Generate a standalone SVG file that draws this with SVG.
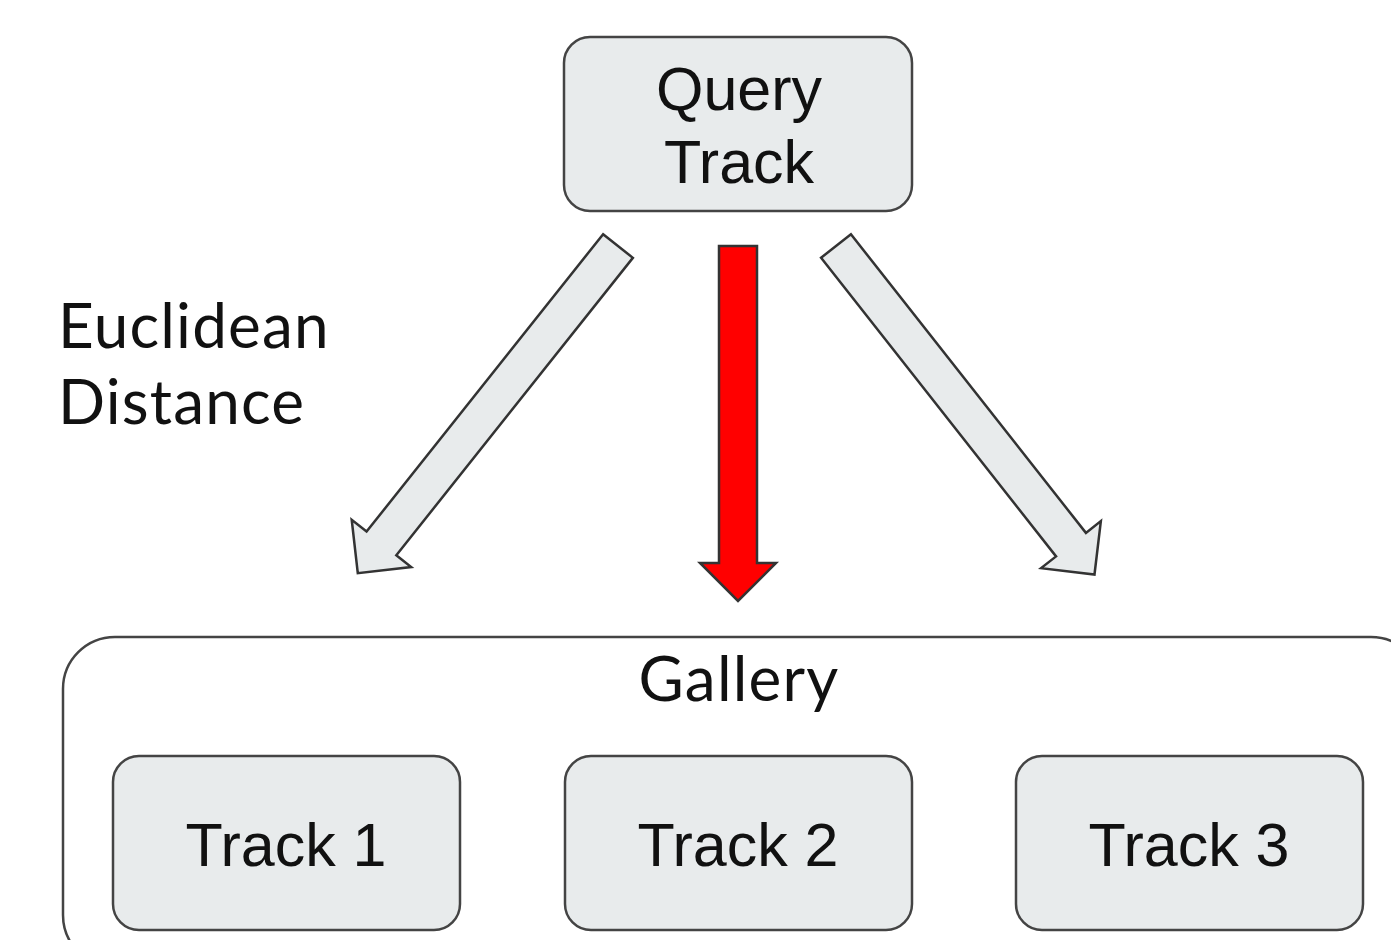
<svg xmlns="http://www.w3.org/2000/svg" width="1391" height="940" viewBox="0 0 1391 940">
<style>
.box{fill:#e8ebec;stroke:#444;stroke-width:2.5}
.frame{fill:none;stroke:#444;stroke-width:2.5}
.arr{fill:#e8ebec;stroke:#333;stroke-width:2.5;stroke-linejoin:miter}
.red{fill:#ff0000;stroke:#333;stroke-width:2.5}
.t{font-family:"Liberation Sans",Arial,sans-serif;font-size:61px;fill:#111;text-anchor:middle}
.l{font-family:Lato,"Liberation Sans",sans-serif;font-size:62px;letter-spacing:1.2px;fill:#111}
</style>
<rect width="1391" height="940" fill="#fff"/>
<g id="gallery">
<rect class="frame" x="63" y="637" width="1360" height="330" rx="52"/>
<text class="l" x="739" y="701" text-anchor="middle">Gallery</text>
</g>
<g id="query">
<rect class="box" x="564" y="37" width="348" height="174" rx="26"/>
<text class="t" x="739" y="110">Query</text>
<text class="t" x="739" y="183">Track</text>
</g>
<g id="track1">
<rect class="box" x="113" y="756" width="347" height="174" rx="26"/>
<text class="t" x="286" y="866">Track 1</text>
</g>
<g id="track2">
<rect class="box" x="565" y="756" width="347" height="174" rx="26"/>
<text class="t" x="738" y="866">Track 2</text>
</g>
<g id="track3">
<rect class="box" x="1016" y="756" width="347" height="174" rx="26"/>
<text class="t" x="1189" y="866">Track 3</text>
</g>
<g id="label">
<text class="l" x="58" y="348">Euclidean</text>
<text class="l" x="58" y="424">Distance</text>
</g>
<g id="connectors">
<path class="arr" transform="translate(618,246) rotate(38.5)" d="M-19,0 L19,0 L19,380 L38,380 L0,418 L-38,380 L-19,380 Z"/>
<path class="red" d="M719,246 L757,246 L757,563 L776,563 L738,601 L700,563 L719,563 Z"/>
<path class="arr" transform="translate(836,246) rotate(-38.2)" d="M-19,0 L19,0 L19,380 L38,380 L0,418 L-38,380 L-19,380 Z"/>
</g>
</svg>
